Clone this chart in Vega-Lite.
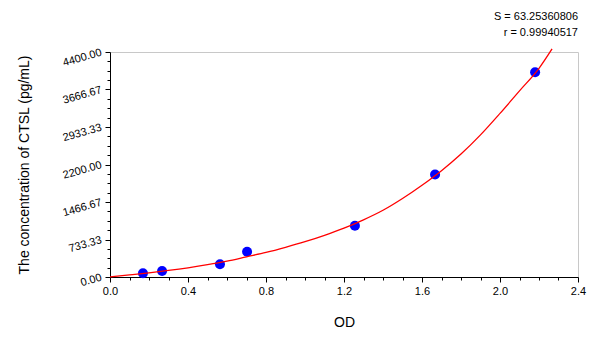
{
  "$schema": "https://vega.github.io/schema/vega-lite/v6.json",
  "width": 468,
  "height": 225,
  "autosize": "none",
  "padding": {"left": 110, "top": 52, "right": 22, "bottom": 60},
  "background": "white",
  "config": {
    "view": {"stroke": "#c8c8c8", "strokeWidth": 1},
    "font": "Liberation Sans",
    "axis": {
      "grid": false,
      "domainColor": "black",
      "tickColor": "black",
      "labelColor": "black",
      "titleColor": "black",
      "labelFont": "Liberation Sans",
      "titleFont": "Liberation Sans",
      "labelFontSize": 11,
      "titleFontSize": 14,
      "titleFontWeight": "normal",
      "labelOverlap": false,
      "labelFlush": false
    }
  },
  "title": {
    "text": ["S = 63.25360806", "r = 0.99940517"],
    "anchor": "end",
    "frame": "group",
    "orient": "top",
    "fontSize": 11,
    "fontWeight": "normal",
    "font": "Liberation Sans",
    "color": "black",
    "lineHeight": 16,
    "offset": 8
  },
  "datasets": {
    "std": [
      {"od": 0.169, "conc": 72},
      {"od": 0.267, "conc": 117},
      {"od": 0.564, "conc": 248},
      {"od": 0.703, "conc": 495},
      {"od": 1.256, "conc": 1003},
      {"od": 1.667, "conc": 2004},
      {"od": 2.180, "conc": 4005}
    ],
    "fit": [
      {"od": 0.0, "conc": 4},
      {"od": 0.1, "conc": 42},
      {"od": 0.2, "conc": 82},
      {"od": 0.3, "conc": 128},
      {"od": 0.4, "conc": 180},
      {"od": 0.5, "conc": 240},
      {"od": 0.6, "conc": 310},
      {"od": 0.7, "conc": 395},
      {"od": 0.8, "conc": 480},
      {"od": 0.9, "conc": 580},
      {"od": 1.0, "conc": 690},
      {"od": 1.1, "conc": 815},
      {"od": 1.2, "conc": 955},
      {"od": 1.3, "conc": 1118},
      {"od": 1.4, "conc": 1305},
      {"od": 1.5, "conc": 1535},
      {"od": 1.6, "conc": 1795},
      {"od": 1.7, "conc": 2080},
      {"od": 1.8, "conc": 2405},
      {"od": 1.9, "conc": 2780},
      {"od": 2.0, "conc": 3200},
      {"od": 2.1, "conc": 3640},
      {"od": 2.2, "conc": 4080},
      {"od": 2.267, "conc": 4460}
    ]
  },
  "encoding": {
    "x": {
      "field": "od",
      "type": "quantitative",
      "title": "OD",
      "scale": {"domain": [0, 2.4], "nice": false, "zero": false},
      "axis": {
        "values": [0, 0.1, 0.2, 0.3, 0.4, 0.5, 0.6, 0.7, 0.8, 0.9, 1.0, 1.1, 1.2, 1.3, 1.4, 1.5, 1.6, 1.7, 1.8, 1.9, 2.0, 2.1, 2.2, 2.3, 2.4],
        "labelExpr": "round(datum.value*10) % 4 == 0 ? format(datum.value, '.1f') : ''",
        "tickSize": {"condition": {"test": "round(datum.value*10) % 4 != 0", "value": 3}, "value": 5},
        "labelPadding": 3,
        "titlePadding": 19
      }
    },
    "y": {
      "field": "conc",
      "type": "quantitative",
      "title": "The concentration of CTSL (pg/mL)",
      "scale": {"domain": [0, 4400], "nice": false},
      "axis": {
        "values": [0, 183.3333, 366.6667, 550, 733.3333, 916.6667, 1100, 1283.3333, 1466.6667, 1650, 1833.3333, 2016.6667, 2200, 2383.3333, 2566.6667, 2750, 2933.3333, 3116.6667, 3300, 3483.3333, 3666.6667, 3850, 4033.3333, 4216.6667, 4400],
        "labelExpr": "round(datum.value/183.33333) % 4 == 0 ? format(datum.value, '.2f') : ''",
        "tickSize": {"condition": {"test": "round(datum.value/183.33333) % 4 != 0", "value": 3}, "value": 5},
        "labelAngle": -16,
        "labelAlign": "right",
        "labelBaseline": "middle",
        "labelPadding": 4,
        "titlePadding": 30
      }
    }
  },
  "layer": [
    {
      "data": {"name": "std"},
      "mark": {"type": "circle", "size": 100, "color": "#0000ff", "opacity": 1}
    },
    {
      "data": {"name": "fit"},
      "mark": {"type": "line", "color": "#ff0000", "strokeWidth": 1.3, "clip": false, "interpolate": "monotone"}
    },
    {
      "data": {"values": [{}]},
      "mark": {"type": "rule", "color": "black", "strokeWidth": 1},
      "encoding": {"x": {"datum": 2.4}, "y": null}
    }
  ]
}
